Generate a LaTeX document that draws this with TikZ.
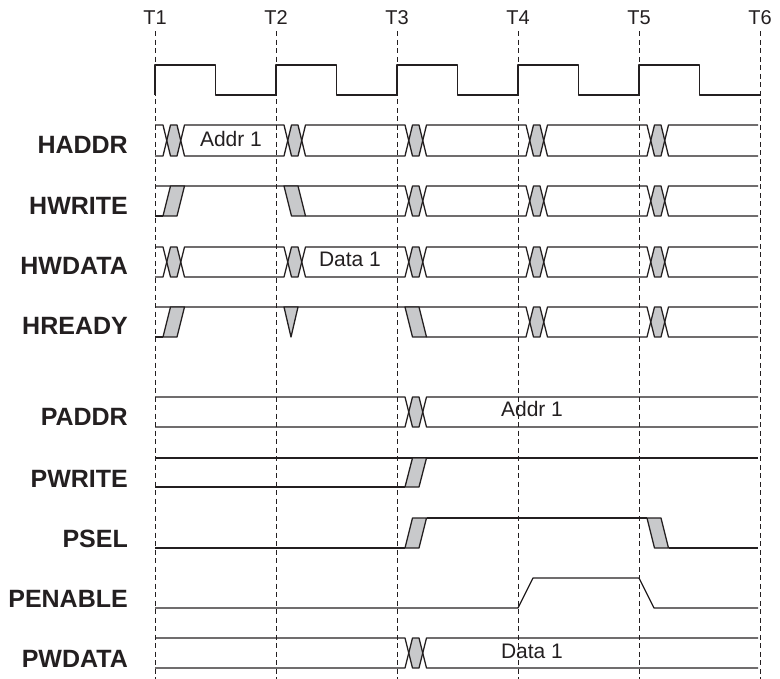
\documentclass[tikz,border=0pt]{standalone}
\usepackage{fontspec}
\setmainfont{Liberation Sans}
\definecolor{ink}{HTML}{231F20}
\definecolor{hatch}{HTML}{C8C9CB}

\begin{document}
\begin{tikzpicture}[x=1pt, y=-1pt, line join=round,
  wave/.style={draw=ink, line width=1.3pt},
  slope/.style={wave, fill=hatch},
  grid/.style={draw=ink, line width=0.8pt, dash pattern=on 5pt off 3.5pt},
  sig/.style={font=\fontsize{25}{30}\selectfont\bfseries, text=ink, anchor=base east, inner sep=0pt},
  tname/.style={font=\fontsize{20}{24}\selectfont, text=ink, anchor=base, inner sep=0pt},
  val/.style={font=\fontsize{21}{25}\selectfont, text=ink, anchor=base, inner sep=0pt}]
\useasboundingbox (0,0) rectangle (780,679);

% time marks
\foreach \k in {1,...,6} {
  \pgfmathsetmacro\tx{155+121*(\k-1)}
  \node[tname] (t\k) at (\tx,25) {T\k};
  \draw[grid] ([yshift=-6pt]t\k.south) -- (\tx,679);
}

% clock
\draw[wave] (155,95) \foreach \k in {1,...,5} { -- ++(0,-30) -- ++(60.5,0) -- ++(0,30) -- ++(60.5,0) };

% signal names
\node[sig] (haddr) at (128,154) {HADDR};
\node[sig] (hwrite) at (128,215) {HWRITE};
\node[sig] (hwdata) at (128,275) {HWDATA};
\node[sig] (hready) at (128,335) {HREADY};
\node[sig] (paddr) at (128,425) {PADDR};
\node[sig] (pwrite) at (128,487) {PWRITE};
\node[sig] (psel) at (128,547) {PSEL};
\node[sig] (penable) at (128,607) {PENABLE};
\node[sig] (pwdata) at (128,667) {PWDATA};

% bus style rows: top, bottom, start of bottom line, crossings
\foreach \t/\b/\bs/\xs in {125/156/155/{163,284,405,526,647}, 186/216/305.5/{405,526,647},
    247/277/155/{163,284,405,526,647}, 307/337/426.5/{526,647}, 397/427/155/{405}, 638/668/155/{405}} {
  \foreach \x in \xs
    \fill[hatch] ({\x+3.75},{(\t+\b)/2}) -- (\x+7.5,\t) -- (\x+14,\t) -- ({\x+17.75},{(\t+\b)/2})
      -- (\x+14,\b) -- (\x+7.5,\b) -- cycle;
  \draw[wave] (155,\t) \foreach \x in \xs { -- (\x,\t) -- (\x+7.5,\b) -- (\x+14,\b) -- (\x+21.5,\t) } -- (758,\t);
  \draw[wave] (\bs,\b) \foreach \x in \xs { -- (\x,\b) -- (\x+7.5,\t) -- (\x+14,\t) -- (\x+21.5,\b) } -- (758,\b);
}

% HWRITE
\draw[wave] (155,216) -- (163,216);
\draw[slope] (163,216) -- (177,216) -- (184.5,186) -- (170.5,186) -- cycle;
\draw[slope] (284,186) -- (298,186) -- (305.5,216) -- (291.5,216) -- cycle;

% HREADY
\draw[wave] (155,337) -- (163,337);
\draw[slope] (163,337) -- (177,337) -- (184.5,307) -- (170.5,307) -- cycle;
\draw[slope] (284,307) -- (298,307) -- (291,337) -- cycle;
\draw[slope] (405,307) -- (419,307) -- (426.5,337) -- (412.5,337) -- cycle;

% PWRITE
\draw[wave] (155,458) -- (758,458);
\draw[wave] (155,487) -- (405,487);
\draw[slope] (405,487) -- (419,487) -- (426.5,458) -- (412.5,458) -- cycle;

% PSEL
\draw[wave] (155,548) -- (405,548);
\draw[slope] (405,548) -- (419,548) -- (426.5,518) -- (412.5,518) -- cycle;
\draw[wave] (426.5,518) -- (647,518);
\draw[slope] (647,518) -- (661,518) -- (668.5,548) -- (654.5,548) -- cycle;
\draw[wave] (668.5,548) -- (758,548);

% PENABLE
\draw[wave] (155,608) -- (518,608) -- (533,578) -- (639,578) -- (654,608) -- (758,608);

% bus values
\node[val] (haddr1) at (231,146.7) {Addr 1};
\node[val] (hwdata1) at (350,266.7) {Data 1};
\node[val] (paddr1) at (532,417) {Addr 1};
\node[val] (pwdata1) at (532,658) {Data 1};
\end{tikzpicture}
\end{document}
